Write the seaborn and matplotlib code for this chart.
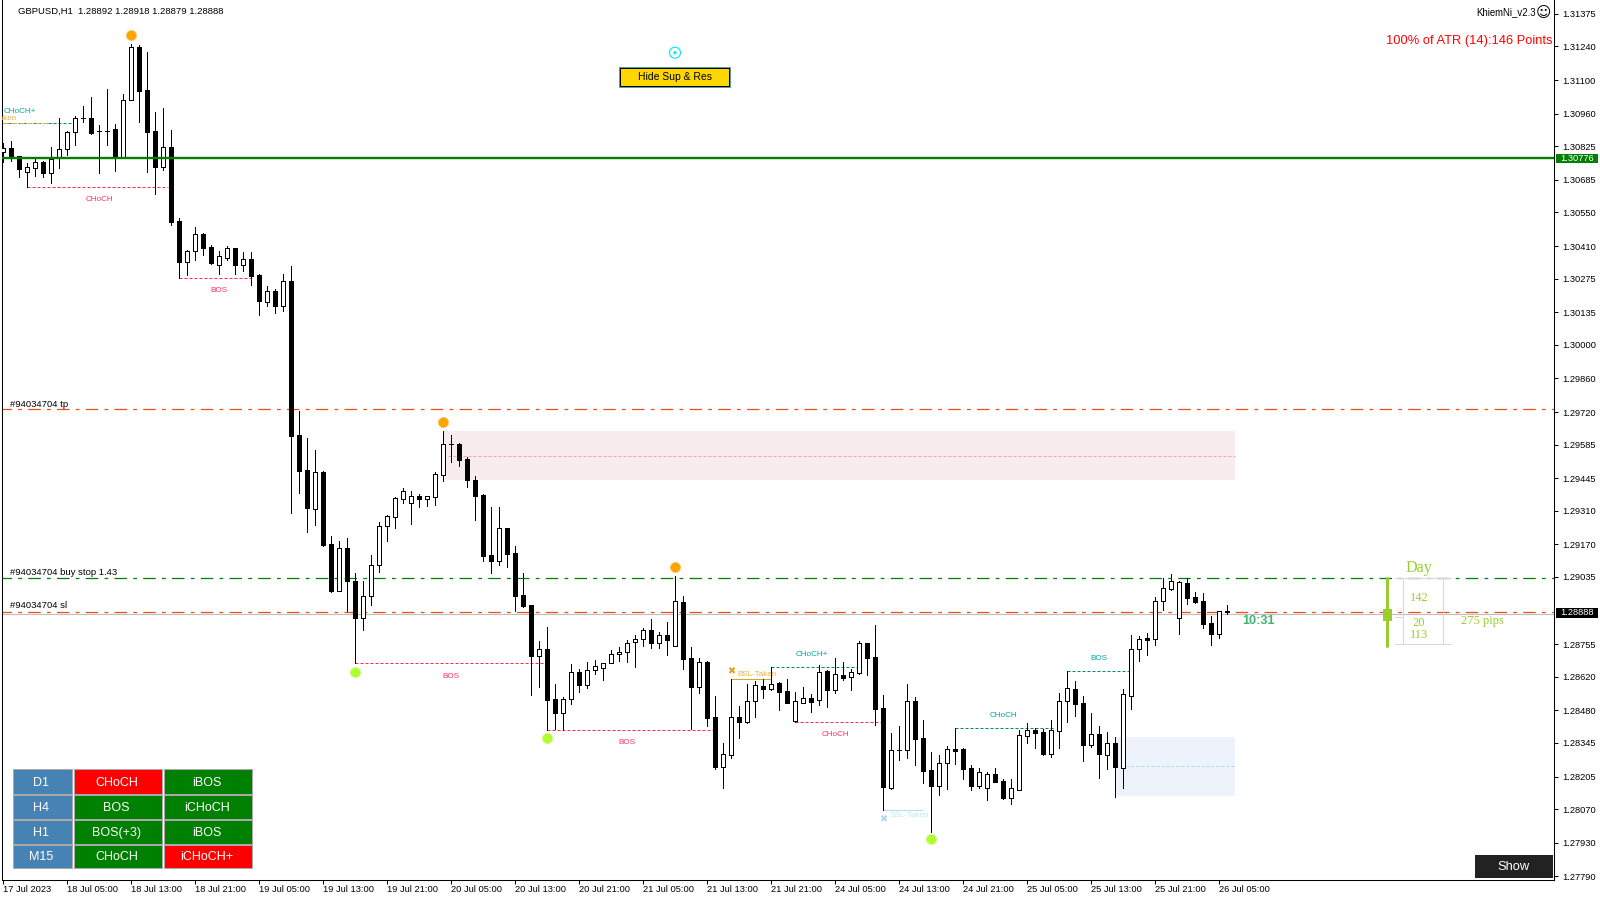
import matplotlib
matplotlib.use("Agg")
import matplotlib.pyplot as plt
from matplotlib.path import Path
import seaborn as sns
import numpy as np
from matplotlib.patches import Rectangle, Circle
from matplotlib.lines import Line2D
from matplotlib.transforms import Affine2D

# hourly GBPUSD candles
opens = [1.30803,1.30816,1.30784,1.30717,1.30733,1.30760,1.30715,1.30775,1.30812,1.30883,1.30941,1.30941,1.30887,1.30890,1.30895,1.30782,1.31016,1.31236,1.31059,1.30887,
         1.30740,1.30821,1.30513,1.30345,1.30388,1.30460,1.30406,1.30333,1.30362,1.30401,1.30333,1.30355,1.30288,1.30179,1.30222,1.30162,1.30264,1.29624,1.29478,1.29319,
         1.29470,1.29172,1.28978,1.29154,1.29018,1.28863,1.28955,1.29083,1.29246,1.29285,1.29360,1.29344,1.29370,1.29360,1.29369,1.29460,1.29586,1.29588,1.29525,1.29438,
         1.29376,1.29125,1.29099,1.29237,1.29133,1.28959,1.28917,1.28708,1.28734,1.28526,1.28471,1.28526,1.28639,1.28587,1.28646,1.28655,1.28676,1.28713,1.28721,1.28763,
         1.28775,1.28813,1.28759,1.28792,1.28749,1.28929,1.28696,1.28578,1.28680,1.28451,1.28246,1.28296,1.28451,1.28433,1.28517,1.28580,1.28570,1.28592,1.28559,1.28437,
         1.28509,1.28530,1.28522,1.28644,1.28563,1.28627,1.28617,1.28637,1.28759,1.28700,1.28488,1.28157,1.28314,1.28314,1.28517,1.28364,1.28231,1.28167,1.28260,1.28318,
         1.28318,1.28239,1.28167,1.28156,1.28215,1.28185,1.28117,1.28150,1.28375,1.28397,1.28389,1.28300,1.28396,1.28517,1.28567,1.28509,1.28337,1.28380,1.28296,1.28343,
         1.28239,1.28541,1.28734,1.28779,1.28778,1.28933,1.28986,1.28865,1.29009,1.28951,1.28933,1.28842,1.28799,1.28892]
highs = [1.30837,1.30847,1.30784,1.30754,1.30771,1.30764,1.30822,1.30942,1.30888,1.30949,1.30992,1.31030,1.30913,1.31063,1.30918,1.31042,1.31250,1.31245,1.31217,1.30967,
         1.30984,1.30893,1.30525,1.30394,1.30488,1.30466,1.30415,1.30388,1.30409,1.30401,1.30385,1.30385,1.30293,1.30244,1.30230,1.30294,1.30327,1.29725,1.29612,1.29563,
         1.29474,1.29205,1.29185,1.29197,1.29052,1.29018,1.29126,1.29264,1.29293,1.29366,1.29405,1.29392,1.29380,1.29370,1.29471,1.29642,1.29625,1.29592,1.29533,1.29455,
         1.29380,1.29326,1.29326,1.29238,1.29164,1.29052,1.28917,1.28769,1.28827,1.28590,1.28536,1.28673,1.28652,1.28680,1.28690,1.28676,1.28731,1.28744,1.28771,1.28793,
         1.28822,1.28858,1.28804,1.28846,1.29038,1.28955,1.28742,1.28696,1.28685,1.28540,1.28344,1.28609,1.28498,1.28588,1.28601,1.28609,1.28659,1.28596,1.28609,1.28555,
         1.28577,1.28547,1.28667,1.28648,1.28698,1.28680,1.28652,1.28768,1.28759,1.28835,1.28542,1.28386,1.28415,1.28590,1.28535,1.28440,1.28307,1.28294,1.28332,1.28405,
         1.28322,1.28253,1.28239,1.28224,1.28239,1.28193,1.28193,1.28397,1.28426,1.28405,1.28402,1.28438,1.28551,1.28642,1.28601,1.28540,1.28468,1.28415,1.28389,1.28368,
         1.28567,1.28793,1.28788,1.28800,1.28950,1.29029,1.29047,1.29016,1.29029,1.28972,1.28966,1.28872,1.28892,1.28918]
lows = [1.30761,1.30764,1.30699,1.30654,1.30701,1.30699,1.30674,1.30736,1.30789,1.30832,1.30924,1.30876,1.30715,1.30832,1.30722,1.30782,1.31016,1.30927,1.30718,1.30628,
        1.30728,1.30499,1.30276,1.30290,1.30352,1.30373,1.30334,1.30294,1.30352,1.30294,1.30305,1.30248,1.30125,1.30161,1.30132,1.30140,1.29301,1.29385,1.29222,1.29251,
        1.29163,1.28973,1.28978,1.28894,1.28676,1.28815,1.28919,1.29056,1.29185,1.29238,1.29344,1.29255,1.29326,1.29330,1.29334,1.29434,1.29513,1.29496,1.29409,1.29272,
        1.29101,1.29052,1.29085,1.29076,1.28894,1.28910,1.28542,1.28578,1.28397,1.28403,1.28399,1.28507,1.28557,1.28573,1.28632,1.28607,1.28676,1.28686,1.28681,1.28662,
        1.28747,1.28739,1.28739,1.28710,1.28747,1.28652,1.28402,1.28552,1.28415,1.28236,1.28157,1.28283,1.28365,1.28429,1.28452,1.28531,1.28565,1.28481,1.28511,1.28430,
        1.28509,1.28473,1.28502,1.28494,1.28552,1.28606,1.28565,1.28631,1.28627,1.28419,1.28064,1.28153,1.28274,1.28282,1.28253,1.28178,1.27974,1.28128,1.28153,1.28257,
        1.28195,1.28149,1.28159,1.28107,1.28182,1.28111,1.28091,1.28150,1.28344,1.28323,1.28294,1.28286,1.28323,1.28432,1.28456,1.28269,1.28328,1.28199,1.28236,1.28120,
        1.28157,1.28486,1.28685,1.28710,1.28752,1.28897,1.28980,1.28797,1.28922,1.28926,1.28822,1.28752,1.28781,1.28879]
closes = [1.30816,1.30779,1.30732,1.30737,1.30758,1.30715,1.30773,1.30812,1.30883,1.30941,1.30941,1.30881,1.30887,1.30890,1.30779,1.31016,1.31236,1.31056,1.30886,1.30740,
          1.30821,1.30512,1.30345,1.30388,1.30459,1.30403,1.30341,1.30367,1.30401,1.30333,1.30355,1.30286,1.30183,1.30222,1.30162,1.30263,1.29622,1.29477,1.29323,1.29470,
          1.29168,1.28977,1.29154,1.29016,1.28866,1.28955,1.29083,1.29246,1.29287,1.29362,1.29391,1.29370,1.29360,1.29370,1.29461,1.29586,1.29586,1.29522,1.29438,1.29371,
          1.29122,1.29099,1.29237,1.29132,1.28957,1.28914,1.28708,1.28734,1.28525,1.28471,1.28526,1.28639,1.28587,1.28647,1.28664,1.28676,1.28713,1.28722,1.28761,1.28775,
          1.28813,1.28761,1.28792,1.28774,1.28933,1.28695,1.28578,1.28680,1.28450,1.28246,1.28297,1.28451,1.28433,1.28517,1.28584,1.28570,1.28588,1.28558,1.28512,1.28517,
          1.28530,1.28516,1.28638,1.28563,1.28630,1.28614,1.28638,1.28759,1.28699,1.28487,1.28163,1.28314,1.28314,1.28517,1.28362,1.28229,1.28167,1.28260,1.28318,1.28312,
          1.28236,1.28167,1.28222,1.28214,1.28182,1.28116,1.28156,1.28376,1.28397,1.28387,1.28297,1.28397,1.28517,1.28572,1.28506,1.28336,1.28380,1.28300,1.28343,1.28244,
          1.28547,1.28734,1.28775,1.28774,1.28933,1.28987,1.29016,1.29012,1.28948,1.28930,1.28839,1.28799,1.28892,1.28888]

price_ticks = [1.31375,1.31240,1.31100,1.30960,1.30825,1.30685,1.30550,1.30410,1.30275,1.30135,1.30000,1.29860,1.29720,
               1.29585,1.29445,1.29310,1.29170,1.29035,1.28755,1.28620,1.28480,1.28345,1.28205,1.28070,1.27930,1.27790]
time_labels = ["17 Jul 2023","18 Jul 05:00","18 Jul 13:00","18 Jul 21:00","19 Jul 05:00","19 Jul 13:00","19 Jul 21:00",
               "20 Jul 05:00","20 Jul 13:00","20 Jul 21:00","21 Jul 05:00","21 Jul 13:00","21 Jul 21:00","24 Jul 05:00",
               "24 Jul 13:00","24 Jul 21:00","25 Jul 05:00","25 Jul 13:00","25 Jul 21:00","26 Jul 05:00"]

# swing markers
swing_high_bar = [16, 55, 84]
swing_high_price = [1.31287, 1.29679, 1.29077]
swing_low_bar = [44, 68, 116]
swing_low_price = [1.28640, 1.28365, 1.27947]

# structure levels: price, first bar, last bar
red_levels = [(1.30654, 3, 20.6), (1.30276, 22, 31), (1.28676, 44, 67.6), (1.28397, 68, 88.7), (1.28430, 99, 109.8)]
teal_levels = [(1.30920, 0, 8.7), (1.28659, 96, 106.7), (1.28405, 119, 131.2), (1.28642, 133, 140.7)]

panel_rows = ["D1", "H4", "H1", "M15"]
panel_trend = ["CHoCH", "BOS", "BOS(+3)", "CHoCH"]
panel_inner = ["iBOS", "iCHoCH", "iBOS", "iCHoCH+"]
panel_trend_col = ["#ff0000", "#008000", "#008000", "#008000"]
panel_inner_col = ["#008000", "#008000", "#008000", "#ff0000"]

LABEL_FONT = "Liberation Sans"
SERIF = "Liberation Serif"

sns.set_style("white")
plt.rcParams["font.family"] = [LABEL_FONT, "DejaVu Sans"]

fig = plt.figure(figsize=(16, 9), dpi=100)
ax = fig.add_axes([2/1600, 1 - 879.5/900, (1554 - 2)/1600, 879.5/900])
px = Affine2D().scale(1/1600, -1/900).translate(0, 1) + fig.transFigure

bars = np.arange(len(opens))
o, h, l, c = map(np.array, (opens, highs, lows, closes))
up = c > o

# zones
ax.fill_between([55, 154], 1.29438, 1.29641, color="#f9ecee", lw=0, zorder=1)
ax.fill_between([139, 154], 1.28124, 1.28369, color="#eef3fb", lw=0, zorder=1)
ax.hlines(1.29536, 55.6, 154, color="#f4a6ae", lw=0.72, ls=(0, (3, 2)), zorder=1.5)
ax.hlines(1.28247, 140.4, 154, color="#b5d5f5", lw=0.72, ls=(0, (3, 2)), zorder=1.5)

# order lines and bid line
dashdot = (0, (10, 5, 3, 5))
ax.hlines(1.29732, -1, 194, color="#e8501a", lw=0.9, ls=dashdot, zorder=1.6)
ax.hlines(1.29029, -1, 194, color="#008000", lw=0.9, ls=dashdot, zorder=1.6)
ax.hlines(1.28890, -1, 194, color="#e8501a", lw=0.9, ls=dashdot, zorder=1.6)
ax.hlines(1.28882, -1, 194, color="#c0c0c0", lw=0.85, zorder=1.55)

for price, a, b in red_levels:
    ax.hlines(price, a, b, color="#ff2d4b", lw=0.72, ls=(0, (3, 2)), zorder=1.8)
for price, a, b in teal_levels:
    ax.hlines(price, a, b, color="#00897b", lw=0.72, ls=(0, (3, 2)), zorder=1.8)
ax.hlines(1.30920, 0, 6.2, color="#e8a33a", lw=0.72, ls=(0, (5, 3)), zorder=1.9)
ax.hlines(1.28609, 91, 96, color="#daa520", lw=0.8, zorder=1.8)
ax.hlines(1.28064, 110, 115, color="#b0e0e6", lw=0.8, zorder=1.8)

# candles
ax.vlines(bars, l, h, color="black", lw=0.7, zorder=2, antialiased=False)
sns.barplot(x=bars[up], y=(c - o)[up], bottom=o[up], native_scale=True, width=0.5, color="white",
            edgecolor="black", linewidth=0.7, saturation=1, errorbar=None, zorder=3, antialiased=False, ax=ax)
sns.barplot(x=bars[~up], y=(c - o)[~up], bottom=o[~up], native_scale=True, width=0.5, color="black",
            edgecolor="black", linewidth=0.7, saturation=1, errorbar=None, zorder=3, antialiased=False, ax=ax)

# spiky sun marker used for the swing points
angles = np.linspace(0, 2*np.pi, 32, endpoint=False)
radii = np.where(np.arange(32) % 2 == 0, 1.0, 0.84)
sun = Path(np.column_stack([radii*np.cos(angles), radii*np.sin(angles)]).tolist() + [[1.0, 0.0]], closed=True)
sns.scatterplot(x=swing_high_bar, y=swing_high_price, color="#ffa500", s=62, marker=sun, edgecolor="#ffa500",
                linewidth=0.2, zorder=5, ax=ax)
sns.scatterplot(x=swing_low_bar, y=swing_low_price, color="#adff2f", s=62, marker=sun, edgecolor="#adff2f",
                linewidth=0.2, zorder=5, ax=ax)

ax.hlines(1.30776, -1, 194, color="#007f00", lw=1.7, zorder=6)

ax.set_xlim(-1.3/8, 193.84)
ax.set_ylim(1.27777, 1.31433)

ax.yaxis.tick_right()
ax.set_yticks(price_ticks)
ax.set_yticklabels([f"{t:.5f}" for t in price_ticks], fontsize=6.7, color="black")
ax.set_xticks(np.arange(0, 160, 8))
ax.set_xticklabels(time_labels, fontsize=6.7, color="black", ha="left")
ax.tick_params(axis="both", direction="out", length=3, width=0.75, color="black", pad=2.6, bottom=True, right=True)
ax.tick_params(axis="x", pad=1)
ax.set_xlabel("")
ax.set_ylabel("")
for name, sp in ax.spines.items():
    sp.set_linewidth(0.75)
    sp.set_color("black")
ax.spines["top"].set_visible(False)


def label(x, y, s, **kw):
    kw.setdefault("ha", "center")
    kw.setdefault("va", "center")
    kw.setdefault("fontsize", 6.8)
    kw.setdefault("color", "black")
    return fig.text(x, y + 0.7, s, transform=px, zorder=20, **kw)


def box(x0, y0, x1, y1, **kw):
    fig.add_artist(Rectangle((x0, y0), x1 - x0, y1 - y0, transform=px, zorder=15, **kw))


# structure labels
red_txt = "#ff3068"
teal_txt = "#00a8a8"
for x, y, s in [(99, 199, "CHoCH"), (218.7, 290, "BOS"), (450.7, 675.7, "BOS"), (627, 741.7, "BOS"), (835, 734, "CHoCH")]:
    label(x, y, s, color=red_txt, fontsize=5.9)
for x, y, s in [(811.7, 654, "CHoCH+"), (1003, 715, "CHoCH"), (1099, 657.7, "BOS"), (19.5, 111, "CHoCH+")]:
    label(x, y, s, color=teal_txt, fontsize=5.9)
ax.text(17, 118.7, "BSL-Taken", transform=px, ha="right", va="center", color="#e8b04a", fontsize=5.8, clip_on=True)
label(757.3, 674, "BSL-Taken", color="#e8b04a", fontsize=5.8)
label(909.3, 815, "SSL-Taken", color="#c2e6ec", fontsize=5.8)
label(731, 671, "✖", color="#daa520", fontsize=7, family=["DejaVu Sans"])
label(883.3, 818.3, "✖", color="#add8e6", fontsize=7, family=["DejaVu Sans"])

# order labels
label(10, 403.5, "#94034704 tp", ha="left")
label(10, 572, "#94034704 buy stop 1.43", ha="left")
label(10, 605, "#94034704 sl", ha="left")

# header
label(18, 10.5, "GBPUSD,H1  1.28892 1.28918 1.28879 1.28888", ha="left")
label(1476.5, 11.5, "KhiemNi_v2.3", ha="left", fontsize=6.9)
label(1543.7, 11.6, "☺", fontsize=10.5, family=["DejaVu Sans"])
label(1553, 40.5, "100% of ATR (14):146 Points", ha="right", color="#ff0000", fontsize=9.3)

# hide button and target
box(618.5, 66.5, 729.5, 87, facecolor="#ffd700", edgecolor="#5f9ea0", linewidth=0.72)
box(619.5, 67.5, 728.5, 86, facecolor="#ffd700", edgecolor="black", linewidth=0.72)
label(674.5, 76.6, "Hide Sup & Res", fontsize=7.5)
fig.add_artist(Circle((675, 52.7), 5.5, transform=px, fill=False, edgecolor="#19e6f0", lw=0.9, zorder=15))
fig.add_artist(Circle((675, 52.7), 1.7, transform=px, facecolor="#19e6f0", lw=0, zorder=15))

# price tags
box(1556, 153.5, 1598, 163, facecolor="#007f00", edgecolor="none")
label(1577, 157.5, "1.30776", color="white", fontsize=6.7)
box(1556, 607.5, 1598, 618, facecolor="black", edgecolor="none")
label(1577, 612, "1.28888", color="white", fontsize=6.7)

# countdown
label(1258.5, 620, "10:31", color="#3cb371", fontsize=9.2, fontweight="bold")

# daily range
lime = "#9acd32"
fig.add_artist(Line2D([1387.3, 1387.3], [577.5, 645.5], transform=px, color=lime, lw=2.2, zorder=15))
box(1383.2, 609, 1391.6, 620.7, facecolor=lime, edgecolor="none")
grey = "#d8d8d8"
for y, a, b in [(578.3, 1395, 1450.7), (644.3, 1395, 1450.7), (617.3, 1395, 1403.3)]:
    fig.add_artist(Line2D([a, b], [y, y], transform=px, color=grey, lw=0.75, zorder=14))
for x in [1403.3, 1443.3]:
    fig.add_artist(Line2D([x, x], [578.3, 644.3], transform=px, color=grey, lw=0.75, zorder=14))
label(1419.3, 567, "Day", color=lime, fontsize=11.6, family=[SERIF])
label(1419, 597, "142", color=lime, fontsize=9, family=[SERIF])
label(1419, 622, "20", color=lime, fontsize=9, family=[SERIF])
label(1419, 634, "113", color=lime, fontsize=9, family=[SERIF])
label(1482.7, 620, "275 pips", color=lime, fontsize=9, family=[SERIF])

# structure table
row_tops = [769.3, 794.7, 819.7, 844.7]
row_bots = [793.7, 818.7, 843.7, 868.3]
columns = [(13.3, 72.3), (73.7, 162.3), (163.7, 252.3)]
for r, name in enumerate(panel_rows):
    cells = [(name, "#4682b4"), (panel_trend[r], panel_trend_col[r]), (panel_inner[r], panel_inner_col[r])]
    for (x0, x1), (txt, col) in zip(columns, cells):
        box(x0, row_tops[r], x1, row_bots[r], facecolor=col, edgecolor="#a9a9a9", linewidth=0.75)
        label((x0 + x1)/2 - 1.3, (row_tops[r] + row_bots[r])/2 + 0.3, txt, color="white", fontsize=9)

# show button
box(1474.5, 855, 1553, 877.5, facecolor="#222222", edgecolor="none")
label(1513, 866.8, "Show", color="white", fontsize=9.3)

fig.savefig("out.png", dpi=100)
